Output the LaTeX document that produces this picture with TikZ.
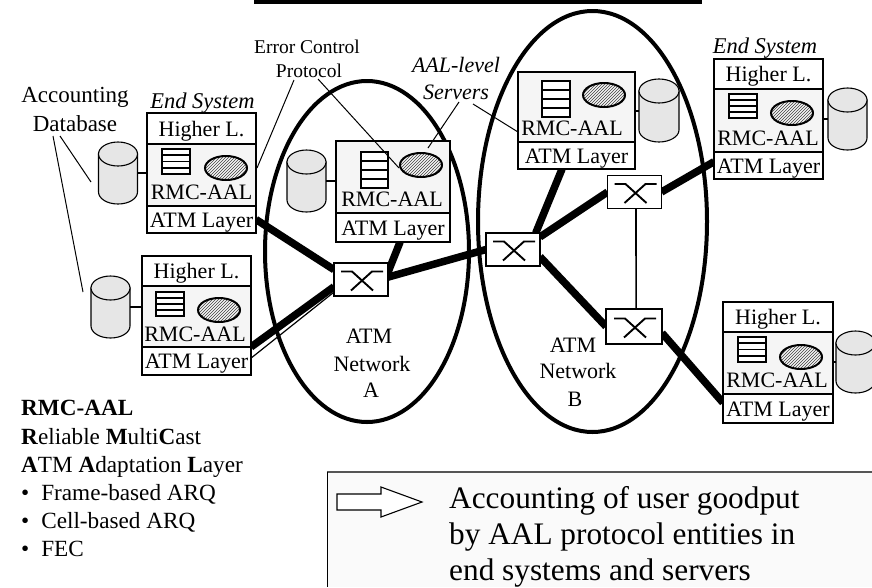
\documentclass[tikz,border=0pt]{standalone}
\usepackage{fontspec}
\setmainfont{Liberation Serif}
\usetikzlibrary{shapes.geometric,patterns,backgrounds}
\definecolor{rmcfill}{HTML}{F5F5F5}
\definecolor{dbfill}{HTML}{E6E6E6}
\definecolor{noteline}{HTML}{555555}
\definecolor{notefill}{HTML}{FAFAFA}
\tikzset{
  layerbox/.style={draw,line width=1.7pt,fill=white,inner sep=0pt,outer sep=0pt,text height=15pt,text depth=0pt,font=\fontsize{22}{26}\selectfont},
  rmcbox/.style={layerbox,fill=rmcfill},
  lab/.style={inner sep=0pt,anchor=base,font=\fontsize{22}{26}\selectfont},
  switchbox/.style={draw,line width=1.7pt,fill=white,inner sep=0pt,outer sep=0pt,minimum width=54pt,minimum height=33pt},
  thicklink/.style={line width=7.5pt},
  thinline/.style={line width=1pt},
  dblink/.style={line width=2pt},
  netring/.style={draw,ellipse,line width=4pt,inner sep=0pt,outer sep=0pt},
  noteframe/.style={draw=none,fill=notefill}
}
% name x1 x2 y1 y2 y3 y4 rmcx rmcbase
\newcommand{\esstack}[9]{%
  \node[layerbox,minimum width={#3-#2},minimum height={#5-#4}] (#1hi) at ({(#2+#3)/2},{(#4+#5)/2}) {Higher L.};
  \node[rmcbox,minimum width={#3-#2},minimum height={#6-#5}] (#1rmc) at ({(#2+#3)/2},{(#5+#6)/2}) {};
  \node[layerbox,minimum width={#3-#2},minimum height={#7-#6}] (#1atm) at ({(#2+#3)/2},{(#6+#7)/2}) {ATM Layer};
  \node[lab] (#1rmct) at (#8,#9) {RMC-AAL};
}
\newcommand{\srvstack}[8]{%
  \node[rmcbox,minimum width={#3-#2},minimum height={#5-#4}] (#1rmc) at ({(#2+#3)/2},{(#4+#5)/2}) {};
  \node[layerbox,minimum width={#3-#2},minimum height={#6-#5}] (#1atm) at ({(#2+#3)/2},{(#5+#6)/2}) {ATM Layer};
  \node[lab] (#1rmct) at (#7,#8) {RMC-AAL};
}
% x1 x2 y1 y2 lw
\newcommand{\queueicon}[5]{%
  \draw[line width=#5pt,fill=white] (#1,#3) rectangle (#2,#4);
  \foreach \k in {1,2,3}{\draw[line width=#5pt] (#1,{#3+\k*(#4-#3)/4}) -- (#2,{#3+\k*(#4-#3)/4});}
}
\newcommand{\hatchicon}[3]{%
  \node[ellipse,draw,line width=2pt,pattern=north east lines,pattern color=black!75,inner sep=0pt,minimum width=42pt,minimum height=24pt] (#1) at (#2,#3) {};
}
\newcommand{\swx}[2]{% cross glyph
  \draw[line width=1.9pt] ({#1-20},{#2-8}) -- ({#1-9},{#2-8}) -- ({#1+12},{#2+11});
  \draw[line width=1.9pt] ({#1+22},{#2-8}) -- ({#1+11},{#2-8}) -- ({#1-10},{#2+11});
}
% name x1 x2 top bottom
\newcommand{\dbcan}[5]{%
  \draw[line width=1.1pt,fill=dbfill] (#2,{#4+12}) -- (#2,{#5-12})
    .. controls (#2,{#5-5.4}) and ({(#2+#3)/2-10.8},#5) .. ({(#2+#3)/2},#5)
    .. controls ({(#2+#3)/2+10.8},#5) and (#3,{#5-5.4}) .. (#3,{#5-12})
    -- (#3,{#4+12}) -- cycle;
  \node[ellipse,draw,line width=1.1pt,fill=dbfill,inner sep=0pt,outer sep=0pt,minimum width={#3-#2},minimum height=24pt] (#1) at ({(#2+#3)/2},{#4+12}) {};
  \coordinate (#1w) at (#2,{(#4+#5)/2});
  \coordinate (#1e) at (#3,{(#4+#5)/2});
}
\begin{document}
\begin{tikzpicture}[x=1pt,y=-1pt]
\useasboundingbox (0,0) rectangle (872,587);
\fill (254,0) rectangle (702,4);

% note panel
\node[noteframe,anchor=north west,minimum width=545pt,minimum height=115pt,inner sep=0pt] (note) at (327,472) {};
\draw[noteline,line width=1.1pt] (note.north west) -- (note.north east);
\draw[line width=1pt] (note.north west) -- (note.south west);

% switches
\node[switchbox] (swA) at (361,279.5) {};
\node[switchbox] (swM) at (513,249.5) {};
\node[switchbox] (swT) at (634.5,192) {};
\node[switchbox,minimum width=56pt,minimum height=35pt] (swB) at (634,326.5) {};
\swx{361}{279.5}
\swx{513}{249.5}
\swx{634.5}{192}
\swx{634}{326.5}

% databases
\dbcan{db1}{98.5}{137.5}{142}{204}
\dbcan{db2}{91}{130}{276}{338}
\dbcan{db3}{287}{326}{150}{212}
\dbcan{db4}{639}{679}{79}{142}
\dbcan{db5}{828}{867}{88}{150}
\dbcan{db6}{836}{875}{331}{393}

% stacks
\esstack{e1}{147}{256}{113}{144}{206}{233}{201.5}{199}
\esstack{e2}{142}{251}{256}{286}{347}{375}{195}{341}
\srvstack{s1}{336}{450}{141}{213}{242}{392}{206}
\srvstack{s2}{518}{635}{72}{142}{169}{572}{135}
\esstack{e3}{714}{823}{59}{89}{152}{179}{768}{145}
\esstack{e4}{723}{833}{302}{332}{394}{423}{777}{387}

% networks and links, behind the boxes
\begin{pgfonlayer}{background}
\node[netring,minimum width=204pt,minimum height=341pt] (netA) at (367,251.5) {};
\node[netring,minimum width=229pt,minimum height=421pt] (netB) at (592.5,221.5) {};
\draw[thicklink] (e1atm.east) -- (swA.160);
\draw[thicklink] (e2atm.north east) -- (swA.195);
\draw[line width=1.2pt] (e2atm.3) -- (swA.205);
\draw[thicklink] (s1atm.296) -- (swA.15);
\draw[thicklink] (swA.5) -- (swM.west);
\draw[thicklink] (s2atm.223) -- (swM.36);
\draw[thicklink] (swM.25) -- (swT.west);
\draw[thicklink] (swT.east) -- (e3atm.176);
\draw[thicklink] (swM.345) -- (swB.west);
\draw[thicklink] (swB.347) -- (e4atm.174);
\draw[line width=1.6pt] (swT.275) -- (swB.83.5);
\end{pgfonlayer}

% database links
\draw[dblink] (db1e) -- (db1e -| e1rmc.west);
\draw[dblink] (db2e) -- (db2e -| e2rmc.west);
\draw[dblink] (db3e) -- (db3e -| s1rmc.west);
\draw[dblink] (db4w -| s2rmc.east) -- (db4w);
\draw[dblink] (db5w -| e3rmc.east) -- (db5w);
\draw[dblink] (db6w -| e4rmc.east) -- (db6w);

% icons
\queueicon{162}{190}{149}{174}{1.7}
\queueicon{156}{184}{292}{316}{1.7}
\queueicon{361}{388}{152}{188}{1.7}
\queueicon{542}{570}{81}{117}{1.7}
\queueicon{729}{757}{94}{118}{1.7}
\queueicon{738}{766}{337}{362}{1.7}
\hatchicon{h1}{226}{168}
\hatchicon{h2}{219}{310}
\hatchicon{h3}{421}{165}
\hatchicon{h4}{604}{95}
\hatchicon{h5}{792}{113}
\hatchicon{h6}{801}{357}

% labels
\node[lab,font=\fontsize{23}{29}\selectfont] (acc1) at (75,102) {Accounting};
\node[lab,font=\fontsize{23}{29}\selectfont] (acc2) at (75,131) {Database};
\node[lab,font=\fontsize{22.5}{26}\itshape] (es1) at (202.5,108) {End System};
\node[lab,font=\fontsize{22.5}{26}\itshape] (es2) at (765,53) {End System};
\node[lab,font=\fontsize{19.5}{24}\selectfont] (ec1) at (307,53) {Error Control};
\node[lab,font=\fontsize{19.5}{24}\selectfont] (ec2) at (309,77) {Protocol};
\node[lab,font=\fontsize{22}{26}\itshape] (aal1) at (456,72) {AAL-level};
\node[lab,font=\fontsize{22}{26}\itshape] (aal2) at (456,99) {Servers};
\node[lab] (na1) at (369,343) {ATM};
\node[lab] (na2) at (372,371) {Network};
\node[lab] (na3) at (371,397) {A};
\node[lab] (nb1) at (573,352) {ATM};
\node[lab] (nb2) at (578,378) {Network};
\node[lab] (nb3) at (575,406) {B};

% annotation lines
\coordinate (t1) at (91,182);
\coordinate (t2) at (83,292);
\coordinate (f1) at (60,136);
\coordinate (f2) at (53,136);
\draw[thinline] (f1) -- (t1);
\draw[thinline] (f2) -- (t2);
\coordinate (ea) at (294,80);
\coordinate (eb) at (318,79);
\coordinate (ec) at (257,168);
\coordinate (ed) at (399,168);
\draw[thinline] (ea) -- (ec);
\draw[thinline] (eb) -- (ed);
\coordinate (aa) at (459,102);
\coordinate (ab) at (473,104);
\coordinate (ac) at (428,148);
\draw[thinline] (aa) -- (ac);
\draw[thinline] (ab) -- (s2rmc.west |- 0,132);

% left legend
\begin{scope}[every node/.style={inner sep=0pt,anchor=base west,font=\fontsize{23.2}{28}\selectfont}]
\node (k1) at (21,415) {\textbf{RMC-AAL}};
\node (k2) at (21,444) {\textbf{R}eliable \textbf{M}ulti\textbf{C}ast};
\node (k3) at (21,472) {\textbf{A}TM \textbf{A}daptation \textbf{L}ayer};
\node (k4) at (21,500) {•\hspace{12pt}Frame-based ARQ};
\node (k5) at (21,528) {•\hspace{12pt}Cell-based ARQ};
\node (k6) at (21,556) {•\hspace{12pt}FEC};
\end{scope}

% note arrow and text
\draw[line width=1.1pt,fill=white] (337,494) -- (381,494) -- (381,487) -- (422,502) -- (381,517) -- (381,510) -- (337,510) -- cycle;
\begin{scope}[every node/.style={inner sep=0pt,anchor=base west,font=\fontsize{31.3}{37}\selectfont}]
\node (n1) at (449,508) {Accounting of user goodput};
\node (n2) at (449,544.5) {by AAL protocol entities in};
\node (n3) at (449,580) {end systems and servers};
\end{scope}
\end{tikzpicture}
\end{document}
